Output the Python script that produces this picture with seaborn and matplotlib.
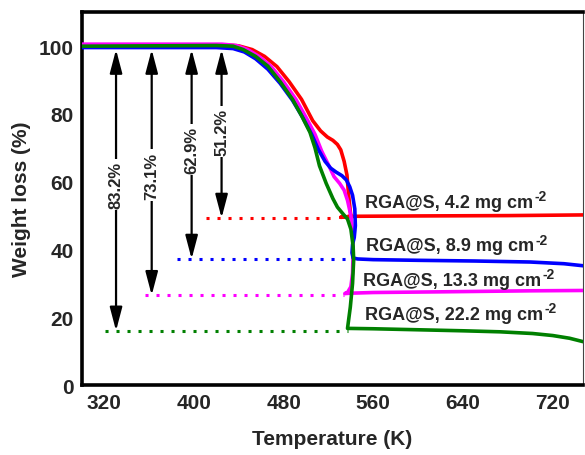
import numpy as np
import pandas as pd
import matplotlib
matplotlib.use("Agg")
import matplotlib.pyplot as plt
import seaborn as sns

# ---------------- data ----------------
samples = ["4.2", "8.9", "13.3", "22.2"]
colors = ["#ff0000", "#0000ff", "#ff00ff", "#008000"]

t_red = [300, 428, 440, 452, 463, 474, 485, 496, 506, 513, 519, 524, 528, 531, 534, 536.5, 538, 539.6, 540, 536, 531, 536, 545, 600, 680, 747]
w_red = [100.4, 100.4, 100.1, 99.0, 97.0, 94.0, 89.5, 84.3, 78.0, 75.0, 73.2, 72.2, 71.0, 69.4, 66.0, 62.0, 56.0, 51.0, 50.0, 49.6, 49.5, 49.6, 49.8, 49.9, 50.0, 50.2]

t_blue = [300, 420, 435, 445, 455, 466, 477, 488, 497, 505, 511, 517, 522, 527, 532, 536, 539, 541.5, 543.5, 544, 543, 541.5, 541, 542, 546, 560, 600, 650, 700, 730, 747]
w_blue = [99.6, 99.6, 99.3, 98.3, 96.3, 93.2, 89.0, 84.0, 79.0, 74.0, 69.5, 66.0, 64.0, 62.8, 61.8, 60.5, 58.5, 56.0, 52.0, 47.0, 43.5, 41.5, 39.0, 37.5, 37.2, 37.0, 36.8, 36.6, 36.3, 35.8, 35.2]

t_mag = [300, 425, 438, 448, 458, 469, 480, 491, 500, 508, 514, 520, 525, 530, 534, 537, 540, 541.5, 542, 541.5, 540, 537, 534.6, 540, 560, 620, 700, 747]
w_mag = [100.6, 100.6, 100.2, 99.0, 97.0, 94.0, 89.5, 84.3, 79.0, 74.0, 69.0, 65.0, 61.5, 59.5, 57.5, 54.5, 50.0, 46.0, 40.0, 33.0, 29.0, 27.3, 27.0, 27.1, 27.3, 27.5, 27.8, 27.9]

t_green = [300, 420, 435, 444, 455, 466, 477, 488, 496, 503.5, 508, 512, 518, 524, 528, 533, 537, 540, 542, 542.5, 541.5, 539.5, 537, 540, 560, 600, 640, 673, 702, 720, 735, 747]
w_green = [100.0, 100.2, 100.0, 99.0, 97.0, 94.1, 89.5, 84.3, 79.5, 74.6, 70.0, 64.7, 59.5, 55.0, 52.5, 50.5, 49.0, 46.0, 41.0, 37.0, 30.0, 23.0, 16.7, 16.7, 16.6, 16.3, 16.0, 15.7, 15.2, 14.6, 13.8, 12.8]

# dotted reference levels (start T, end T, level)
dot_start = [411, 385, 356, 321]
dot_end = [528, 538, 534, 537]
dot_level = [49.3, 37.2, 26.5, 16.0]

# arrows: x position, labels, label centre
arrow_x = [424.7, 398, 362.4, 330.6]
arrow_top = 99.0
arrow_labels = ["51.2%", "62.9%", "73.1%", "83.2%"]
arrow_label_y = [74.8, 69.4, 62.0, 59.3]

# sample labels
lab_x = [553, 553.7, 550.8, 552.2]
lab_y = [52.6, 39.7, 29.4, 19.6]

xticks = [320, 400, 480, 560, 640, 720]
yticks = [0, 20, 40, 60, 80, 100]

# ---------------- style ----------------
sns.set_style("white")
plt.rcParams["font.family"] = ["Liberation Sans", "DejaVu Sans"]
plt.rcParams["font.weight"] = "bold"

fig = plt.figure(figsize=(5.85, 4.56), dpi=100)
ax = fig.add_axes([0.1397, 0.1535, 0.8569, 0.8173])

frames = []
for name, t, w in [("4.2", t_red, w_red), ("8.9", t_blue, w_blue),
                   ("13.3", t_mag, w_mag), ("22.2", t_green, w_green)]:
    frames.append(pd.DataFrame({"T": t, "W": w, "sample": name}))
df = pd.concat(frames, ignore_index=True)

pal = dict(zip(samples, colors))
draw_order = ["4.2", "13.3", "8.9", "22.2"]
for name in draw_order:
    sub = df[df["sample"] == name]
    sns.lineplot(data=sub, x="T", y="W", sort=False, estimator=None,
                 color=pal[name], lw=2.6, ax=ax, legend=False, zorder=3,
                 solid_joinstyle="round", solid_capstyle="round")

# dotted lines
for s, e, lv, c in zip(dot_start, dot_end, dot_level, colors):
    sns.lineplot(x=[s, e], y=[lv, lv], color=c, lw=2.2, ax=ax,
                 linestyle=(0, (1, 2.6)), dash_capstyle="butt", zorder=2)

# arrows with labels
for x, lv, lab, ly in zip(arrow_x, dot_level, arrow_labels, arrow_label_y):
    ax.annotate("", xy=(x, lv), xytext=(x, arrow_top),
                arrowprops=dict(arrowstyle="<|-|>,head_length=0.95,head_width=0.25",
                                mutation_scale=15, color="black", lw=1.6,
                                shrinkA=0, shrinkB=0), zorder=4)
    ax.text(x, ly, lab, rotation=90, ha="center", va="center", fontsize=12,
            fontweight="bold", zorder=5,
            bbox=dict(facecolor="white", edgecolor="none", pad=1.5))

for x, y, s in zip(lab_x, lab_y, samples):
    t = ax.text(x, y, "RGA@S, " + s + " mg cm", fontsize=13, fontweight="bold",
                ha="left", va="baseline", zorder=6)
    ax.annotate("-2", xy=(1.0, 0.88), xycoords=t, xytext=(1, 0),
                textcoords="offset points", fontsize=10, fontweight="bold",
                ha="left", va="center", zorder=6)

ax.set_xlim(300, 747)
ax.set_ylim(0, 110)
ax.set_xticks(xticks)
ax.set_yticks(yticks)
ax.tick_params(axis="both", direction="in", length=6, width=2.2, labelsize=15)
ax.tick_params(axis="x", pad=6)
ax.tick_params(axis="y", pad=6)
for lab in ax.get_xticklabels() + ax.get_yticklabels():
    lab.set_fontweight("bold")

for sp in ["left", "bottom", "top"]:
    ax.spines[sp].set_linewidth(2.6)
    ax.spines[sp].set_color("black")
ax.spines["right"].set_linewidth(0.8)
ax.spines["right"].set_color("#444444")

ax.set_xlabel("Temperature (K)", fontsize=15, fontweight="bold", labelpad=12)
ax.set_ylabel("Weight loss (%)", fontsize=15, fontweight="bold", labelpad=5)

fig.savefig("out.png", dpi=100)
